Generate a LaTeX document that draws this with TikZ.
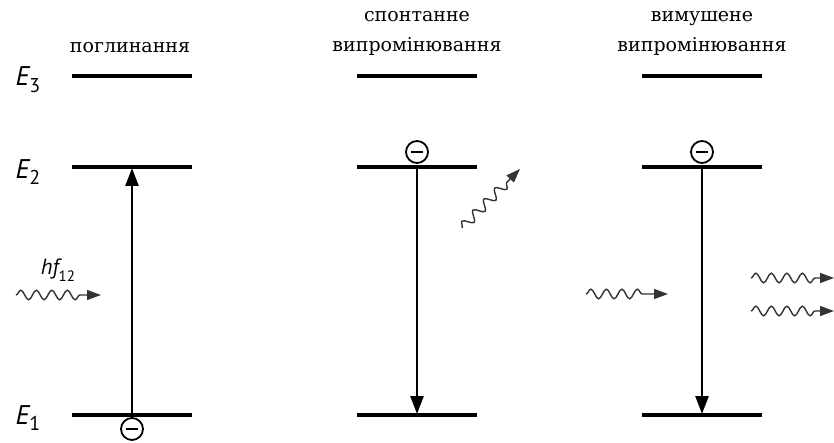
\documentclass[tikz,border=0pt]{standalone}
\usepackage{fontspec}
\setmainfont{DejaVu Serif}
\newfontfamily\labelfont{PT Sans}
\usetikzlibrary{decorations.pathmorphing,arrows.meta}

\begin{document}
\begin{tikzpicture}[x=1pt,y=-1pt,
  level/.style={line width=4pt},
  trans/.style={line width=2.6pt,-{Triangle[length=18pt,width=13pt]}},
  photon/.style={line width=1.4pt, draw=black!80,
    decoration={snake,amplitude=4.8pt,segment length=15.5pt,post length=19pt},
    decorate, -{Triangle[length=14pt,width=10pt]}},
  electron/.style={circle,draw,line width=1.8pt,minimum size=22pt,inner sep=0pt,fill=white},
  minus/.style={line width=1.8pt},
  title/.style={font=\fontsize{19}{30}\selectfont, align=center, inner sep=0pt},
  elabel/.style={font=\labelfont\itshape\fontsize{27}{28}\selectfont, inner sep=0pt}
]
\useasboundingbox (0,0) rectangle (834,443);

% energy level labels
\node[elabel] (E3) at (28,80) {E\raisebox{-0.25em}{\upshape\fontsize{20}{20}\selectfont 3}};
\node[elabel] (E2) at (28,172) {E\raisebox{-0.25em}{\upshape\fontsize{20}{20}\selectfont 2}};
\node[elabel] (E1) at (28,418) {E\raisebox{-0.25em}{\upshape\fontsize{20}{20}\selectfont 1}};

% column titles
\node[title] (t1) at (130,48) {поглинання};
\node[title] (t2) at (417,33) {спонтанне\\випромінювання};
\node[title] (t3) at (702,33) {вимушене\\випромінювання};

% energy levels of the three columns
\foreach \c/\x in {1/132,2/417,3/702}{
  \draw[level] (\x-60,76) -- (\x+60,76);
  \draw[level] (\x-60,167) -- (\x+60,167);
  \draw[level] (\x-60,415) -- (\x+60,415);
  \coordinate (up\c) at (\x,168);
  \coordinate (lo\c) at (\x,414);
}

% absorption
\draw[trans] (lo1) -- (up1);
\node[electron] (e1) at (132,429) {};
\draw[minus] ([xshift=-6pt]e1.center) -- ([xshift=6pt]e1.center);
\coordinate (p1s) at (16,295);
\coordinate (p1e) at (101,295);
\draw[photon] (p1s) -- (p1e);
\node[elabel, font=\labelfont\itshape\fontsize{22}{24}\selectfont] (hf) at (58,270)
  {hf\raisebox{-0.3em}{\upshape\fontsize{15}{15}\selectfont 12}};

% spontaneous emission
\draw[trans] (up2) -- (lo2);
\node[electron] (e2) at (417,152) {};
\draw[minus] ([xshift=-6pt]e2.center) -- ([xshift=6pt]e2.center);
\coordinate (p2s) at (462,228);
\coordinate (p2e) at (520,169);
\draw[photon, decoration={post length=13pt}] (p2s) -- (p2e);

% stimulated emission
\draw[trans] (up3) -- (lo3);
\node[electron] (e3) at (702,152) {};
\draw[minus] ([xshift=-6pt]e3.center) -- ([xshift=6pt]e3.center);
\coordinate (p3s) at (586,294);
\coordinate (p3e) at (668,294);
\draw[photon] (p3s) -- (p3e);
\coordinate (p4s) at (751,278);
\coordinate (p4e) at (834,278);
\draw[photon] (p4s) -- (p4e);
\coordinate (p5s) at (751,311);
\coordinate (p5e) at (834,311);
\draw[photon] (p5s) -- (p5e);
\end{tikzpicture}
\end{document}
